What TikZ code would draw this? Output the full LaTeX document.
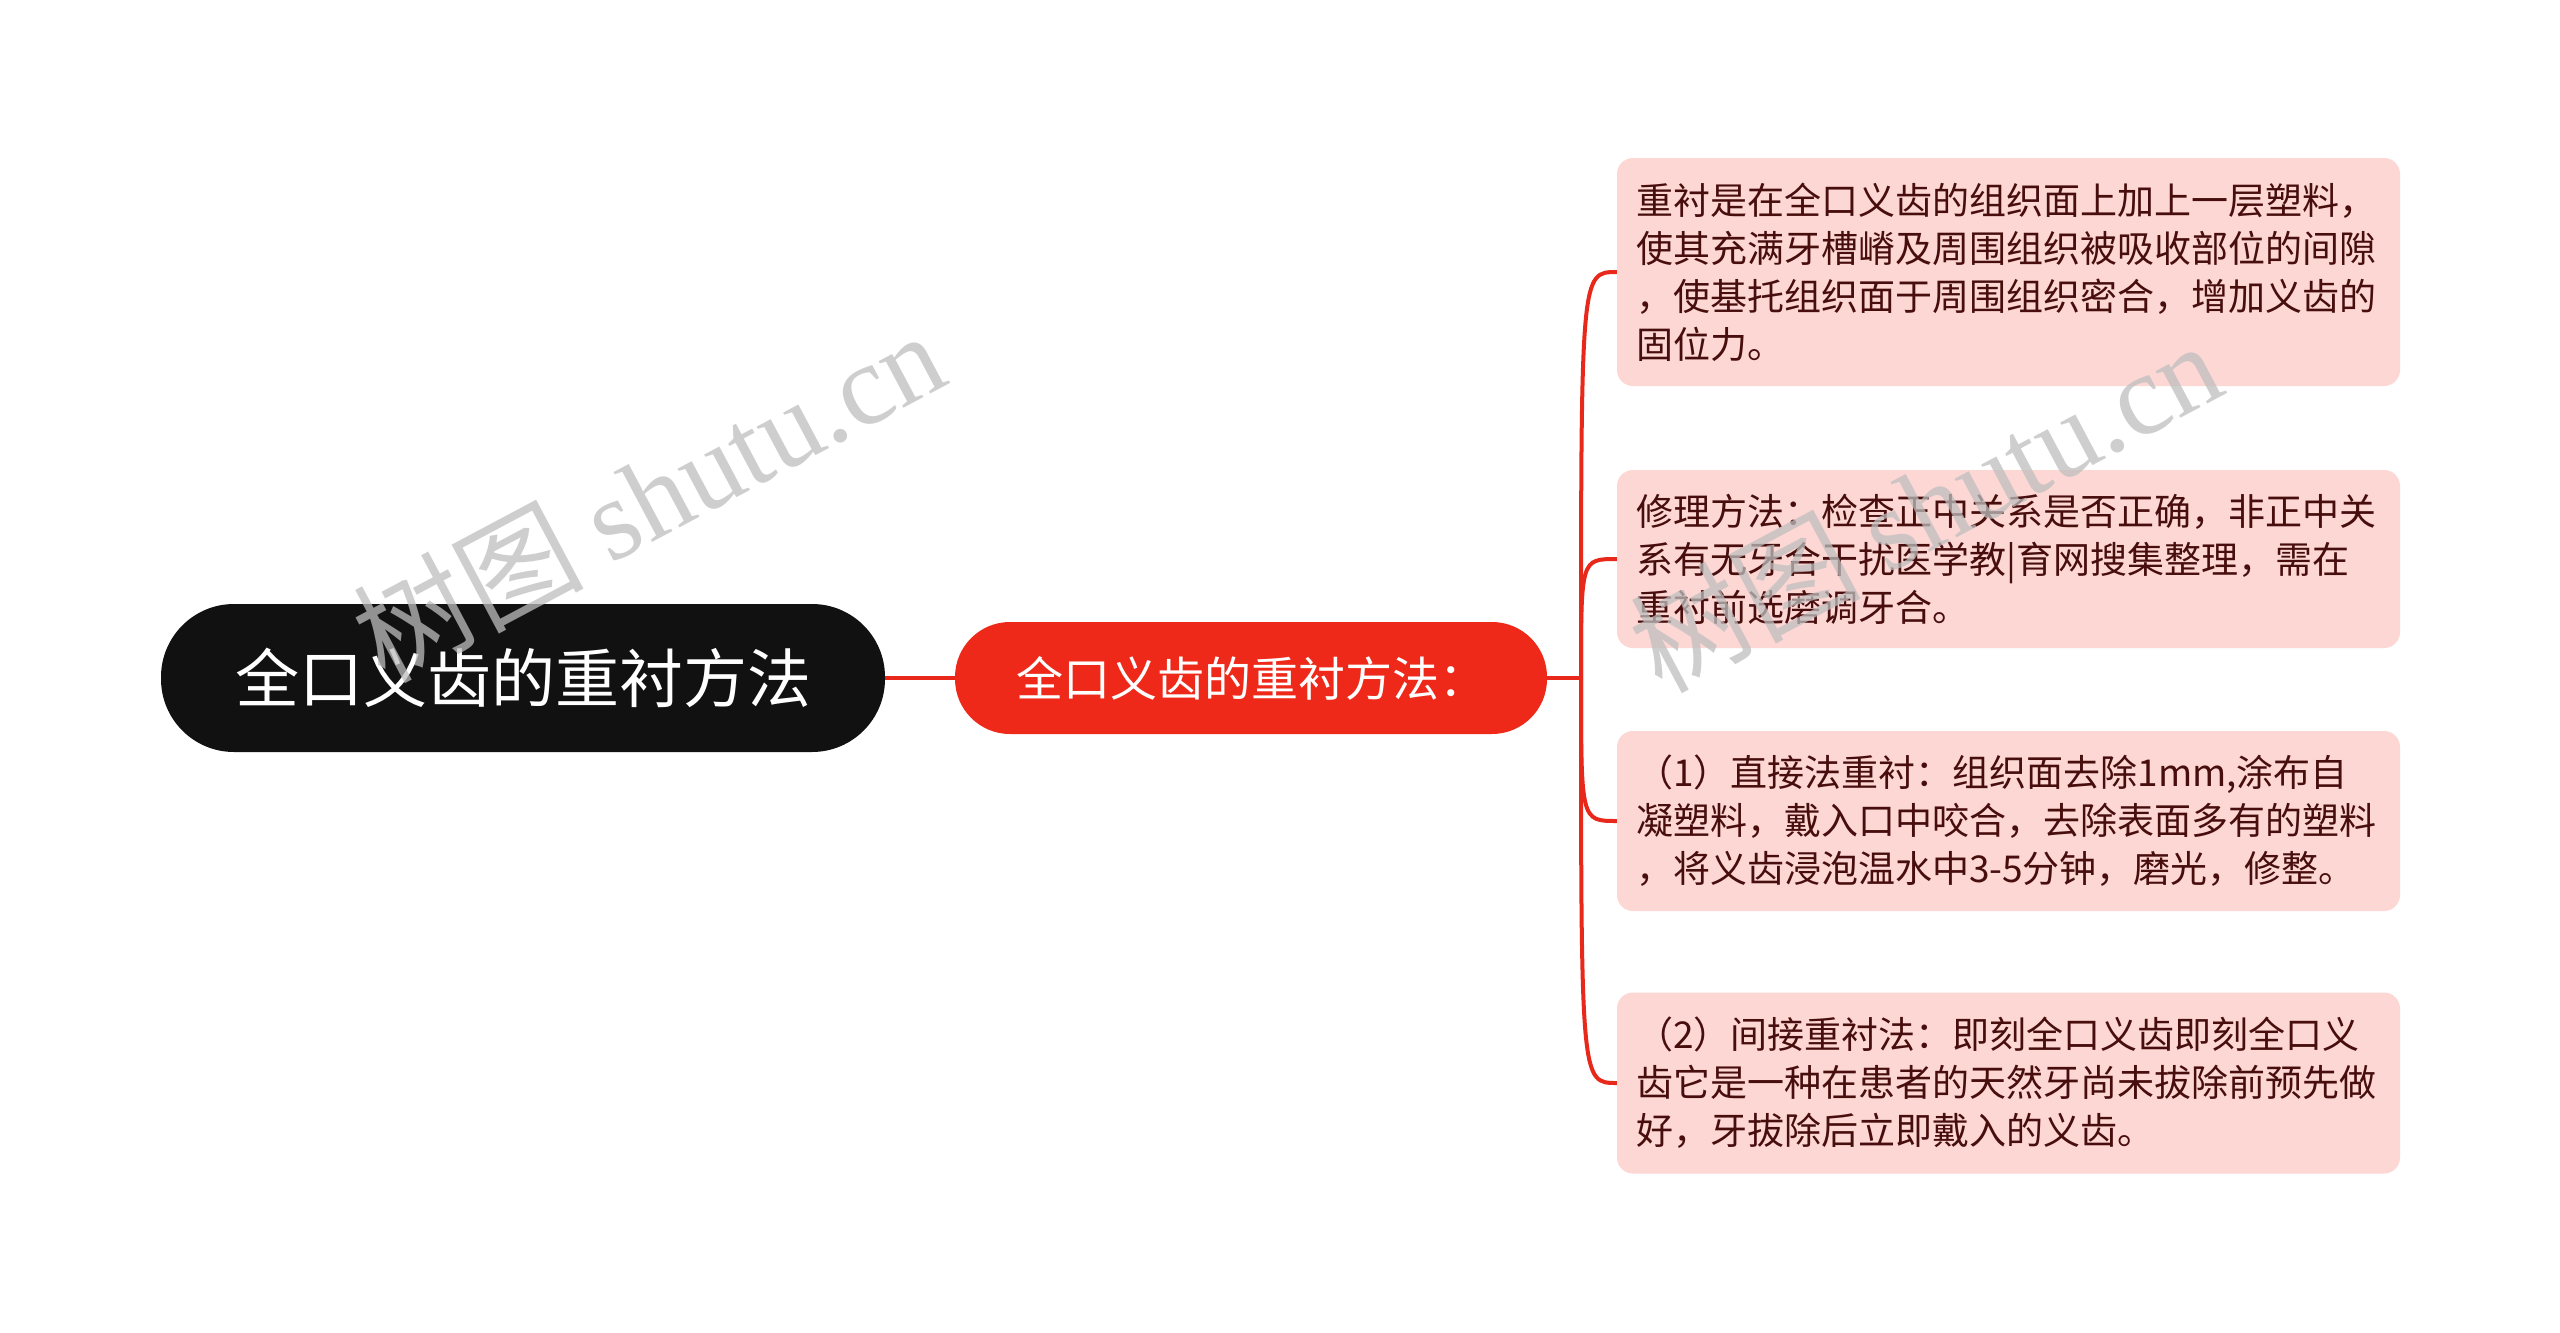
\documentclass[tikz,border=0pt]{standalone}
\usepackage{fontspec}
\setmainfont{Noto Sans CJK SC}
\newfontfamily\cjkfont{Noto Sans CJK SC}
\newfontfamily\wmserif{Liberation Serif}
\definecolor{rootblack}{RGB}{17,17,17}
\definecolor{subred}{RGB}{239,41,26}
\definecolor{linkred}{RGB}{232,40,26}
\definecolor{boxpink}{RGB}{252,215,212}
\definecolor{boxtext}{RGB}{72,14,14}
\definecolor{wmgray}{RGB}{190,190,190}
\tikzset{
  rootnode/.style={fill=rootblack, text=white, rounded corners=73pt,
    minimum width=724pt, minimum height=148pt, inner sep=0pt,
    font=\cjkfont\fontsize{64}{72}\selectfont},
  subnode/.style={fill=subred, text=white, rounded corners=55pt,
    minimum width=592pt, minimum height=112pt, inner sep=0pt,
    font=\cjkfont\fontsize{47}{56}\selectfont},
  leafbox/.style={fill=boxpink, text=boxtext, rounded corners=16pt,
    text width=745pt, inner xsep=19pt, inner ysep=0pt, align=left,
    font=\cjkfont\fontsize{37}{48}\selectfont},
  link/.style={draw=linkred, line width=4pt},
  wmark/.style={text=wmgray, opacity=0.75, rotate=28,
    font=\fontsize{115}{120}\selectfont}
}
\begin{document}
\begin{tikzpicture}[x=1pt,y=-1pt]
\useasboundingbox[fill=white] (0,0) rectangle (2560,1333);

\node[rootnode] (root) at (523,678) {全口义齿的重衬方法};
\node[subnode] (sub) at (1251,678) {全口义齿的重衬方法：};

\node[leafbox, minimum height=228pt] (b1) at (2008.5,272) {重衬是在全口义齿的组织面上加上一层塑料，\\使其充满牙槽嵴及周围组织被吸收部位的间隙\\，使基托组织面于周围组织密合，增加义齿的\\固位力。};
\node[leafbox, minimum height=178pt] (b2) at (2008.5,559) {修理方法：检查正中关系是否正确，非正中关\\系有无牙合干扰医学教|育网搜集整理，需在\\重衬前选磨调牙合。};
\node[leafbox, minimum height=180pt] (b3) at (2008.5,821) {（1）直接法重衬：组织面去除1mm,涂布自\\凝塑料，戴入口中咬合，去除表面多有的塑料\\，将义齿浸泡温水中3-5分钟，磨光，修整。};
\node[leafbox, minimum height=181pt] (b4) at (2008.5,1083) {（2）间接重衬法：即刻全口义齿即刻全口义\\齿它是一种在患者的天然牙尚未拔除前预先做\\好，牙拔除后立即戴入的义齿。};

\coordinate (j) at (1581,678);
\draw[link] (root.east) -- (sub.west);
\draw[link] (sub.east) -- (j);
\draw[link] (j) .. controls (j |- b1.west) .. (b1.west);
\draw[link] (j) .. controls (j |- b2.west) .. (b2.west);
\draw[link] (j) .. controls (j |- b3.west) .. (b3.west);
\draw[link] (j) .. controls (j |- b4.west) .. (b4.west);

\node[wmark] (wm1) at (648,495) {\cjkfont 树图 \wmserif shutu.cn};
\node[wmark] (wm2) at (1925,505) {\cjkfont 树图 \wmserif shutu.cn};
\end{tikzpicture}
\end{document}
